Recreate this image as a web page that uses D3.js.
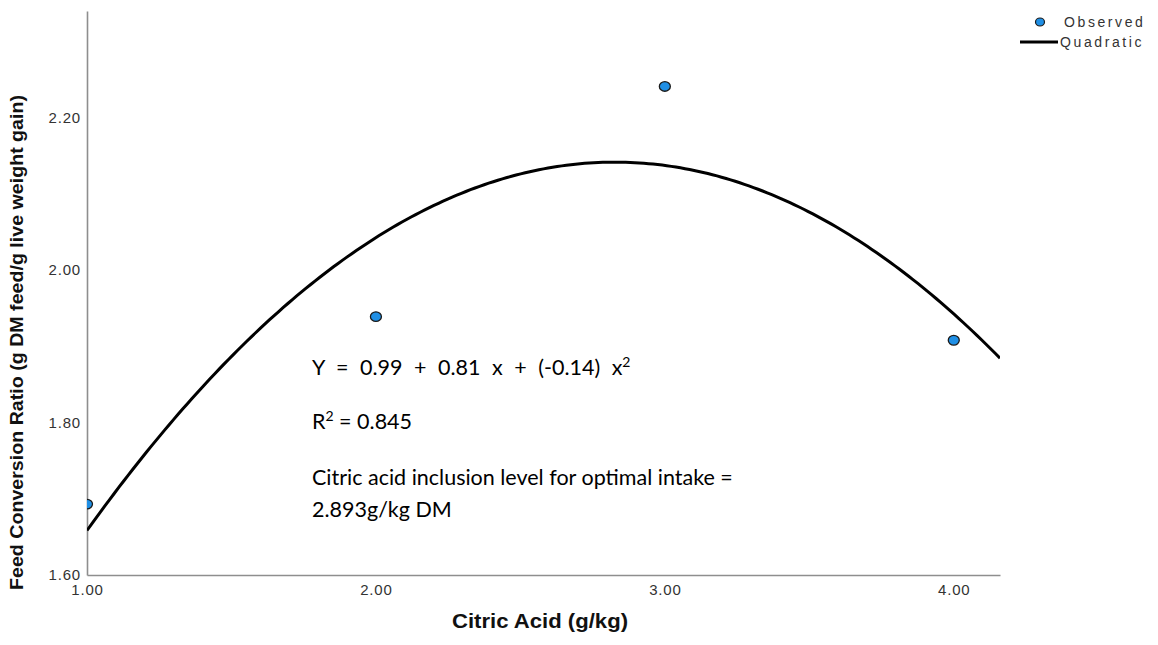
<!DOCTYPE html>
<html>
<head>
<meta charset="utf-8">
<script src="https://cdn.jsdelivr.net/npm/d3@7"></script>
<style>
  body { margin: 0; background: #fff; }
  svg { display: block; }
</style>
</head>
<body>
<svg id="chart" width="1158" height="645"></svg>
<script>
// Observed feed conversion ratio at each citric acid inclusion level
const citricAcid = [1, 2, 3, 4];
const feedConversion = [1.693, 1.939, 2.241, 1.908];

// Axis ticks and extents
const xTicks = [1, 2, 3, 4];
const yTicks = [1.6, 1.8, 2.0, 2.2];
const xDomain = [1, 4.16];
const yDomain = [1.6, 2.34];

// Annotation lines
const equationParts = ["Y = 0.99 + 0.81 x + (-0.14) x", "2"];
const rSquaredParts = ["R", "2", " = 0.845"];
const optimumLines = ["Citric acid inclusion level for optimal intake =", "2.893g/kg DM"];

// Least-squares quadratic fit y = b0 + b1 x + b2 x^2 from the observed points
function quadraticFit(xs, ys) {
  const S = k => d3.sum(xs, x => Math.pow(x, k));
  const T = k => d3.sum(xs, (x, i) => Math.pow(x, k) * ys[i]);
  const A = [
    [S(0), S(1), S(2), T(0)],
    [S(1), S(2), S(3), T(1)],
    [S(2), S(3), S(4), T(2)]
  ];
  for (let c = 0; c < 3; c++) {
    for (let r = c + 1; r < 3; r++) {
      const f = A[r][c] / A[c][c];
      for (let k = c; k < 4; k++) A[r][k] -= f * A[c][k];
    }
  }
  const b = [0, 0, 0];
  for (let r = 2; r >= 0; r--) {
    let s = A[r][3];
    for (let k = r + 1; k < 3; k++) s -= A[r][k] * b[k];
    b[r] = s / A[r][r];
  }
  return b;
}
const coef = quadraticFit(citricAcid, feedConversion);

const svg = d3.select("#chart");
const plot = { left: 87, right: 1000, top: 11, bottom: 575 };

const x = d3.scaleLinear().domain(xDomain).range([plot.left, plot.right]);
const y = d3.scaleLinear().domain(yDomain).range([plot.bottom, plot.top]);

svg.append("defs").append("clipPath").attr("id", "plot-clip")
  .append("rect")
  .attr("x", plot.left).attr("y", plot.top)
  .attr("width", plot.right - plot.left).attr("height", plot.bottom - plot.top);

const axisColor = "#8e8e8e";
const tickText = "#333";
const sans = "'Liberation Sans', Arial, sans-serif";

// Axes
const yAxis = svg.append("g")
  .attr("transform", `translate(${plot.left},0)`)
  .call(d3.axisLeft(y).tickValues(yTicks).tickSize(0).tickSizeOuter(0).tickPadding(6)
    .tickFormat(d3.format(".2f")));
const xAxis = svg.append("g")
  .attr("transform", `translate(0,${plot.bottom})`)
  .call(d3.axisBottom(x).tickValues(xTicks).tickSize(0).tickSizeOuter(0).tickPadding(9)
    .tickFormat(d3.format(".2f")));

[yAxis, xAxis].forEach(g => {
  g.select(".domain").attr("stroke", axisColor).attr("stroke-width", 1.6);
  g.selectAll("text")
    .attr("fill", tickText)
    .style("font-family", sans)
    .style("font-size", "15px")
    .style("letter-spacing", "0.8px");
});

// Axis titles
svg.append("text")
  .attr("transform", `translate(23,${(95 + 590) / 2}) rotate(-90)`)
  .attr("text-anchor", "middle")
  .attr("textLength", 495)
  .attr("lengthAdjust", "spacingAndGlyphs")
  .style("font-family", sans)
  .style("font-weight", "bold")
  .style("font-size", "18px")
  .attr("fill", "#111")
  .text("Feed Conversion Ratio (g DM feed/g live weight gain)");

svg.append("text")
  .attr("x", 540).attr("y", 628)
  .attr("text-anchor", "middle")
  .attr("textLength", 176)
  .attr("lengthAdjust", "spacingAndGlyphs")
  .style("font-family", sans)
  .style("font-weight", "bold")
  .style("font-size", "21px")
  .attr("fill", "#111")
  .text("Citric Acid (g/kg)");

const plotArea = svg.append("g").attr("clip-path", "url(#plot-clip)");

// Fitted quadratic curve
const curveXs = d3.range(0, 201).map(i => xDomain[0] + (xDomain[1] - xDomain[0]) * i / 200);
plotArea.append("path")
  .datum(curveXs)
  .attr("fill", "none")
  .attr("stroke", "#000")
  .attr("stroke-width", 3)
  .attr("d", d3.line()
    .x(d => x(d))
    .y(d => y(coef[0] + coef[1] * d + coef[2] * d * d)));

// Observed points
const pointFill = "#1f8fe5";
plotArea.selectAll("ellipse.obs")
  .data(citricAcid.map((c, i) => ({ c, v: feedConversion[i] })))
  .join("ellipse")
  .attr("class", "obs")
  .attr("cx", d => x(d.c))
  .attr("cy", d => y(d.v))
  .attr("rx", 5.5).attr("ry", 4.8)
  .attr("fill", pointFill)
  .attr("stroke", "#1a1a1a")
  .attr("stroke-width", 1.3);

// Legend
const legend = svg.append("g")
  .style("font-family", sans)
  .style("font-size", "14px")
  .style("letter-spacing", "2.6px")
  .attr("fill", "#333");
legend.append("ellipse")
  .attr("cx", 1040).attr("cy", 22).attr("rx", 4.5).attr("ry", 4)
  .attr("fill", pointFill).attr("stroke", "#1a1a1a").attr("stroke-width", 1.2);
legend.append("text").attr("x", 1064).attr("y", 22).attr("dy", "0.35em").text("Observed");
legend.append("line")
  .attr("x1", 1020).attr("x2", 1058).attr("y1", 42).attr("y2", 42)
  .attr("stroke", "#000").attr("stroke-width", 3);
legend.append("text").attr("x", 1060).attr("y", 42).attr("dy", "0.35em").text("Quadratic");

// Annotation block
const note = svg.append("g")
  .style("font-family", "Lato, 'Open Sans', sans-serif")
  .style("font-size", "21.5px")
  .attr("fill", "#000");

const eq = note.append("text").attr("x", 312).attr("y", 375).style("word-spacing", "6px");
eq.append("tspan").text(equationParts[0]);
eq.append("tspan").attr("dy", -8).style("font-size", "14px").text(equationParts[1]);

const r2 = note.append("text").attr("x", 312).attr("y", 429);
r2.append("tspan").text(rSquaredParts[0]);
r2.append("tspan").attr("dy", -8).style("font-size", "14px").text(rSquaredParts[1]);
r2.append("tspan").attr("dy", 8).text(rSquaredParts[2]);

note.selectAll("text.opt")
  .data(optimumLines)
  .join("text")
  .attr("class", "opt")
  .attr("x", 312)
  .attr("y", (d, i) => 485 + i * 32)
  .text(d => d);
</script>
</body>
</html>
